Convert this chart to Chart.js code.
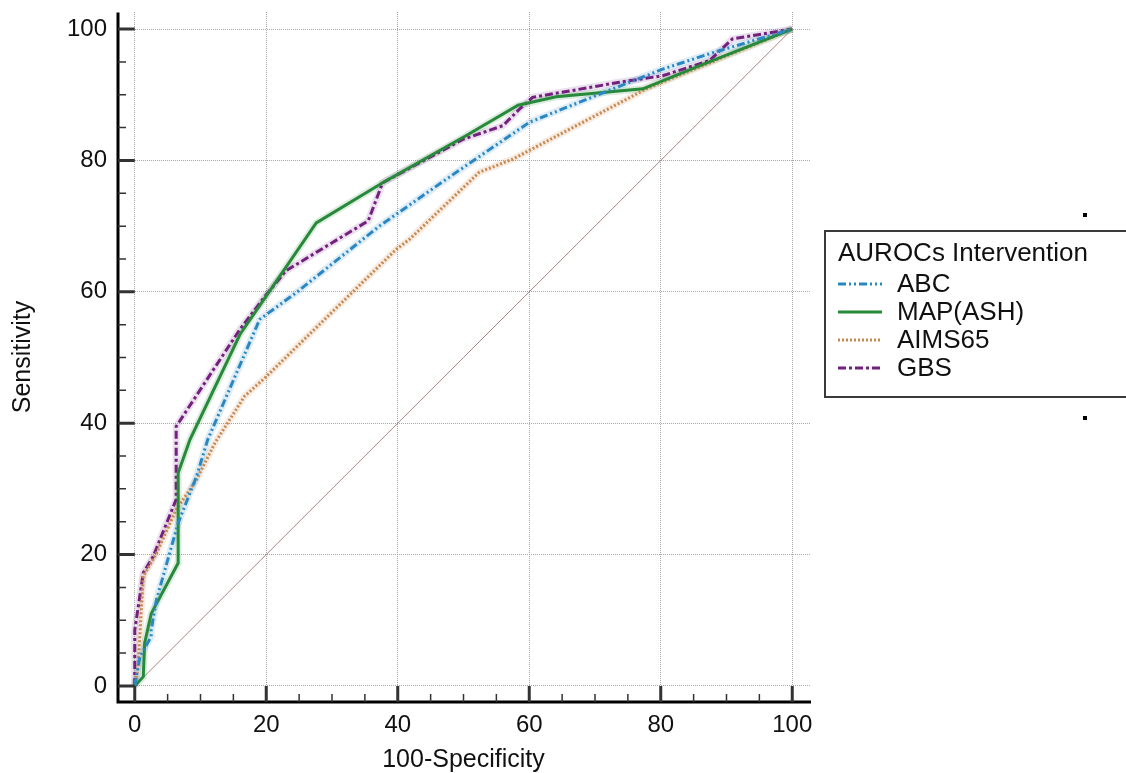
<!DOCTYPE html>
<html><head><meta charset="utf-8">
<style>html,body{margin:0;padding:0;background:#fff;overflow:hidden}canvas{display:block}</style>
<script src="https://cdn.jsdelivr.net/npm/chart.js@4/dist/chart.umd.min.js"></script>
</head><body>
<canvas id="c" width="1126" height="773"></canvas>
<script>
// ---- data ----
const xTickValues = [0, 20, 40, 60, 80, 100];
const yTickValues = [0, 20, 40, 60, 80, 100];
const minorStep = 5;
const legendTitle = 'AUROCs Intervention';
const seriesNames = ['ABC', 'MAP(ASH)', 'AIMS65', 'GBS'];

const abcX = [0, 0.8, 2.5, 2.5, 3.3, 6.6, 9.4, 11.1, 19.0, 24.6, 37.2, 47.9, 60.0, 72.7, 80.3, 87.9, 100];
const abcY = [0, 4.5, 7.5, 8.5, 13.1, 24.8, 31.9, 37.5, 55.8, 59.9, 70.0, 77.5, 85.8, 90.9, 93.9, 96.4, 100];

const mapX = [0, 1.3, 1.5, 2.5, 6.6, 6.6, 8.4, 16.0, 27.6, 37.7, 49.9, 58.3, 64.1, 77.3, 86.6, 100];
const mapY = [0, 1.4, 6.5, 11.0, 18.7, 32.4, 37.5, 53.5, 70.5, 76.6, 83.5, 88.4, 89.7, 90.9, 94.7, 100];

const aimsX = [0, 0.5, 1.3, 3.3, 6.3, 9.4, 12.2, 16.7, 19.8, 39.8, 41.8, 52.4, 57.5, 77.8, 100];
const aimsY = [0, 2.9, 16.7, 20.2, 26.8, 31.4, 37.0, 44.1, 46.9, 66.5, 68.0, 78.2, 80.2, 90.9, 100];

const gbsX = [0, 0, 1.3, 2.8, 6.3, 6.3, 16.0, 19.8, 23.0, 27.6, 35.5, 37.7, 49.9, 56.0, 58.5, 60.5, 73.7, 80.3, 87.4, 90.9, 100];
const gbsY = [0, 8.5, 17.2, 19.7, 28.4, 39.5, 54.3, 59.3, 63.2, 66.0, 70.8, 76.6, 83.2, 85.3, 87.8, 89.6, 91.9, 92.9, 95.2, 98.5, 100];

const refX = [0, 100];
const refY = [0, 100];

// ---- styles ----
const FONT = "'Liberation Sans', Arial, sans-serif";
const colors = ['#2a87c2', '#27893a', '#c8894f', '#74207f'];
const halos = ['rgba(42,135,194,0.16)', 'rgba(39,137,58,0.16)', 'rgba(200,137,79,0.16)', 'rgba(116,32,127,0.14)'];
const dashes = [[8, 3, 2, 3, 2, 3], [], [2, 2], [8, 3, 3, 3]];
const seriesX = [abcX, mapX, aimsX, gbsX];
const seriesY = [abcY, mapY, aimsY, gbsY];

const toPts = (xs, ys) => xs.map((x, i) => ({x: x, y: ys[i]}));

const datasets = [];
seriesNames.forEach((name, i) => {
  datasets.push({
    label: name, data: toPts(seriesX[i], seriesY[i]),
    borderColor: colors[i], borderWidth: 3, borderDash: dashes[i],
    pointRadius: 0, tension: 0, fill: false, order: 1, isMain: true
  });
});
seriesNames.forEach((name, i) => {
  datasets.push({
    label: name + ' halo', data: toPts(seriesX[i], seriesY[i]),
    borderColor: halos[i], borderWidth: 7, borderDash: [],
    pointRadius: 0, tension: 0, fill: false, order: 2
  });
});
datasets.push({
  label: 'reference', data: toPts(refX, refY),
  borderColor: 'rgba(160,110,110,0.85)', borderWidth: 1,
  pointRadius: 0, tension: 0, fill: false, order: 3
});

const axesPlugin = {
  id: 'axesPlugin',
  afterDraw(chart) {
    const ctx = chart.ctx, a = chart.chartArea;
    const xs = chart.scales.x, ys = chart.scales.y;
    const x0 = xs.getPixelForValue(0), y0 = ys.getPixelForValue(0);
    ctx.save();
    ctx.strokeStyle = '#000';
    ctx.lineWidth = 3;
    ctx.beginPath();
    ctx.moveTo(a.left + 1, a.top + 0.5);
    ctx.lineTo(a.left + 1, a.bottom + 1);
    ctx.moveTo(a.left - 0.5, a.bottom);
    ctx.lineTo(a.right + 1, a.bottom);
    ctx.stroke();
    // major ticks (inward)
    ctx.strokeStyle = '#333';
    ctx.lineWidth = 3;
    ctx.beginPath();
    xTickValues.forEach(v => {
      const p = xs.getPixelForValue(v);
      ctx.moveTo(p, a.bottom); ctx.lineTo(p, y0);
    });
    yTickValues.forEach(v => {
      const p = ys.getPixelForValue(v);
      ctx.moveTo(a.left + 1, p); ctx.lineTo(x0, p);
    });
    ctx.stroke();
    // minor ticks
    ctx.lineWidth = 1.5;
    ctx.beginPath();
    for (let v = 0; v <= 100; v += minorStep) {
      if (xTickValues.includes(v)) continue;
      const px = xs.getPixelForValue(v);
      ctx.moveTo(px, a.bottom); ctx.lineTo(px, a.bottom - 8);
      const py = ys.getPixelForValue(v);
      ctx.moveTo(a.left + 1, py); ctx.lineTo(a.left + 9, py);
    }
    ctx.stroke();
    ctx.restore();
  }
};

const legendPlugin = {
  id: 'boxLegend',
  afterDraw(chart) {
    const ctx = chart.ctx;
    ctx.save();
    // small markers
    ctx.fillStyle = '#000';
    ctx.fillRect(1083, 213, 4, 4);
    ctx.fillRect(1083, 416, 4, 4);
    // box
    ctx.strokeStyle = '#3a3a3a';
    ctx.lineWidth = 2;
    ctx.strokeRect(825, 231, 320, 166);
    ctx.fillStyle = '#111';
    ctx.textBaseline = 'middle';
    ctx.textAlign = 'left';
    ctx.font = '26px ' + FONT;
    ctx.fillText(legendTitle, 838, 254);
    const mains = chart.data.datasets.filter(d => d.isMain);
    mains.forEach((d, i) => {
      const y = 284 + i * 28;
      ctx.save();
      ctx.strokeStyle = d.borderColor;
      ctx.lineWidth = 3;
      ctx.setLineDash(d.borderDash || []);
      ctx.beginPath();
      ctx.moveTo(838, y); ctx.lineTo(882, y);
      ctx.stroke();
      ctx.restore();
      ctx.fillStyle = '#111';
      ctx.fillText(d.label, 897, y + 1);
    });
    ctx.restore();
  }
};

new Chart(document.getElementById('c'), {
  type: 'line',
  data: {datasets: datasets},
  options: {
    responsive: false,
    animation: false,
    devicePixelRatio: 1,
    layout: {padding: {top: 12, right: 316, bottom: 0, left: 0}},
    plugins: {legend: {display: false}, tooltip: {enabled: false}},
    scales: {
      x: {
        type: 'linear', min: -2.7, max: 102.7,
        afterBuildTicks: s => { s.ticks = xTickValues.map(v => ({value: v})); },
        afterFit: s => { s.height = 71; s.paddingLeft = 0; s.paddingRight = 0; },
        ticks: {font: {family: FONT, size: 24}, color: '#111', padding: 9, maxRotation: 0, autoSkip: false},
        grid: {color: '#a8a8a8', lineWidth: 1, drawTicks: false},
        border: {display: false, dash: [1, 1]},
        title: {display: true, text: '100-Specificity', color: '#111',
                font: {family: FONT, size: 25, lineHeight: 1}, padding: {top: 0, bottom: 0}}
      },
      y: {
        type: 'linear', min: -2.45, max: 102.6,
        afterBuildTicks: s => { s.ticks = yTickValues.map(v => ({value: v})); },
        afterFit: s => { s.width = 117; s.paddingTop = 0; s.paddingBottom = 0; },
        ticks: {font: {family: FONT, size: 24}, color: '#111', padding: 10, autoSkip: false},
        grid: {color: '#a8a8a8', lineWidth: 1, drawTicks: false},
        border: {display: false, dash: [1, 1]},
        title: {display: true, text: 'Sensitivity', color: '#111',
                font: {family: FONT, size: 25, lineHeight: 1}, padding: {top: 11, bottom: 0}}
      }
    }
  },
  plugins: [axesPlugin, legendPlugin]
});
</script>
</body></html>
